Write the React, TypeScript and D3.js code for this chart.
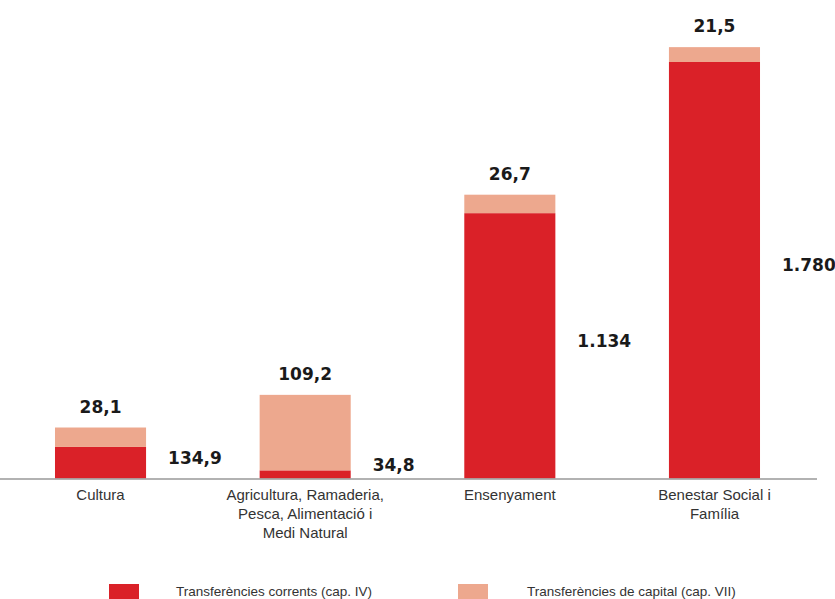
import React from "react";
import * as d3 from "d3";

const categories: string[][] = [
  ["Cultura"],
  ["Agricultura, Ramaderia,", "Pesca, Alimentació i", "Medi Natural"],
  ["Ensenyament"],
  ["Benestar Social i", "Família"],
];
const corrents: number[] = [134.9, 34.8, 1134, 1780];
const capital: number[] = [28.1, 109.2, 26.7, 21.5];
const correntsLabels: string[] = ["134,9", "34,8", "1.134", "1.780"];
const capitalLabels: string[] = ["28,1", "109,2", "26,7", "21,5"];
const legendLabels: string[] = [
  "Transferències corrents (cap. IV)",
  "Transferències de capital (cap. VII)",
];

const W = 835;
const H = 599;
const RED = "#DA2128";
const PINK = "#EDA88E";
const BASE = 478.5;

export default function App() {
  const keys = categories.map((_, i) => String(i));
  const x = d3.scaleBand<string>().domain(keys).range([0, 815]).paddingInner(0.555).paddingOuter(0.2687);
  const yRed = d3.scaleLinear().domain([0, 1780]).range([BASE, 62]);
  // capital transfers are drawn on their own (larger) scale in the original
  const hPink = d3.scaleLinear().domain([0, 109.2]).range([0, 75.5]);

  const numFont = "'DejaVu Sans', sans-serif";
  const txtFont = "'Liberation Sans', Arial, sans-serif";

  return (
    <div style={{ position: "absolute", left: 0, top: 0 }}>
      <svg width={W} height={H} style={{ display: "block", background: "#fff" }}>
        {keys.map((k, i) => {
          const bx = x(k)!;
          const bw = x.bandwidth();
          const redTop = yRed(corrents[i]);
          const pinkTop = redTop - hPink(capital[i]);
          const redMid = Math.min((redTop + BASE) / 2 - 5, BASE - 14);
          return (
            <g key={k}>
              <rect x={bx} y={redTop} width={bw} height={BASE - redTop} fill={RED} />
              <rect x={bx} y={pinkTop} width={bw} height={redTop - pinkTop} fill={PINK} />
              <text
                x={bx + bw / 2}
                y={pinkTop - 15}
                textAnchor="middle"
                fontFamily={numFont}
                fontWeight="bold"
                fontSize={17}
                fill="#1a1a1a"
              >
                {capitalLabels[i]}
              </text>
              <text
                x={bx + bw + 22}
                y={redMid + 6}
                textAnchor="start"
                fontFamily={numFont}
                fontWeight="bold"
                fontSize={17}
                fill="#1a1a1a"
              >
                {correntsLabels[i]}
              </text>
              {categories[i].map((line, j) => (
                <text
                  key={j}
                  x={bx + bw / 2}
                  y={500 + j * 19}
                  textAnchor="middle"
                  fontFamily={txtFont}
                  fontSize={15}
                  fill="#333"
                >
                  {line}
                </text>
              ))}
            </g>
          );
        })}
        <line x1={0} x2={817} y1={BASE + 0.5} y2={BASE + 0.5} stroke="#999" strokeWidth={1.5} />
        <g>
          <rect x={109} y={584} width={30} height={15} fill={RED} />
          <text x={176} y={596} fontFamily={txtFont} fontSize={13.5} fill="#333">
            {legendLabels[0]}
          </text>
          <rect x={458} y={584} width={30} height={15} fill={PINK} />
          <text x={527} y={596} fontFamily={txtFont} fontSize={13.5} fill="#333">
            {legendLabels[1]}
          </text>
        </g>
      </svg>
    </div>
  );
}
